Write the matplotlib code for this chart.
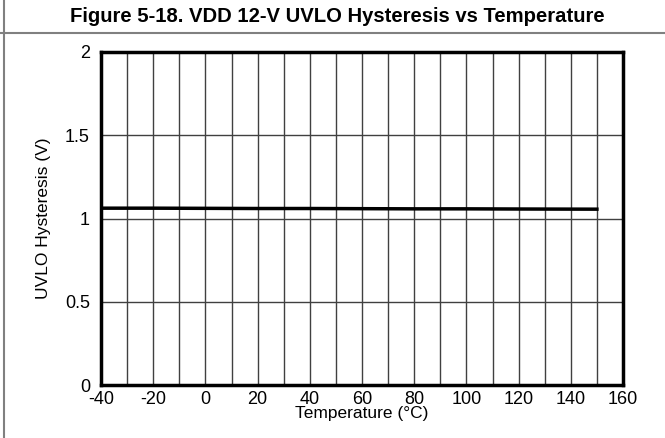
import matplotlib.pyplot as plt
from matplotlib.lines import Line2D

# Data
temperature = [-40, -20, 0, 20, 40, 60, 80, 100, 120, 150]
hysteresis = [1.062, 1.062, 1.061, 1.060, 1.060, 1.059, 1.058, 1.058, 1.057, 1.056]

x_ticks = [-40, -20, 0, 20, 40, 60, 80, 100, 120, 140, 160]
y_ticks = [0, 0.5, 1, 1.5, 2]
y_labels = ['0', '0.5', '1', '1.5', '2']

plt.rcParams['font.family'] = ['Liberation Sans', 'DejaVu Sans']
plt.rcParams['axes.unicode_minus'] = False

fig = plt.figure(figsize=(6.65, 4.38), dpi=100)
ax = fig.add_axes([101 / 665, 1 - 385 / 438, 522 / 665, 333 / 438])

# Title and frame lines
fig.text(337 / 665, 1 - 17 / 438, 'Figure 5-18. VDD 12-V UVLO Hysteresis vs Temperature',
         ha='center', va='center', fontsize=14.6, fontweight='bold')
fig.add_artist(Line2D([0, 1], [1 - 33 / 438, 1 - 33 / 438], color='#808080', lw=1.5))
fig.add_artist(Line2D([4 / 665, 4 / 665], [0, 1], color='#808080', lw=1.5))

ax.plot(temperature, hysteresis, color='black', lw=2.5, zorder=3)

ax.set_xlim(-40, 160)
ax.set_ylim(0, 2)
ax.set_xticks(x_ticks)
ax.set_xticks(range(-30, 160, 20), minor=True)
ax.set_yticks(y_ticks)
ax.set_yticklabels(y_labels)
ax.grid(which='both', axis='x', color='#404040', lw=1)
ax.grid(which='major', axis='y', color='#404040', lw=1)
ax.tick_params(which='both', length=0, labelsize=13, pad=4)
ax.tick_params(axis='y', pad=8)

ax.set_xlabel('Temperature (°C)', fontsize=12.5, labelpad=-1)
ax.set_ylabel('UVLO Hysteresis (V)', fontsize=12.5, labelpad=10)

for spine in ax.spines.values():
    spine.set_linewidth(2.5)
    spine.set_zorder(4)

fig.savefig('out.png', dpi=100)
